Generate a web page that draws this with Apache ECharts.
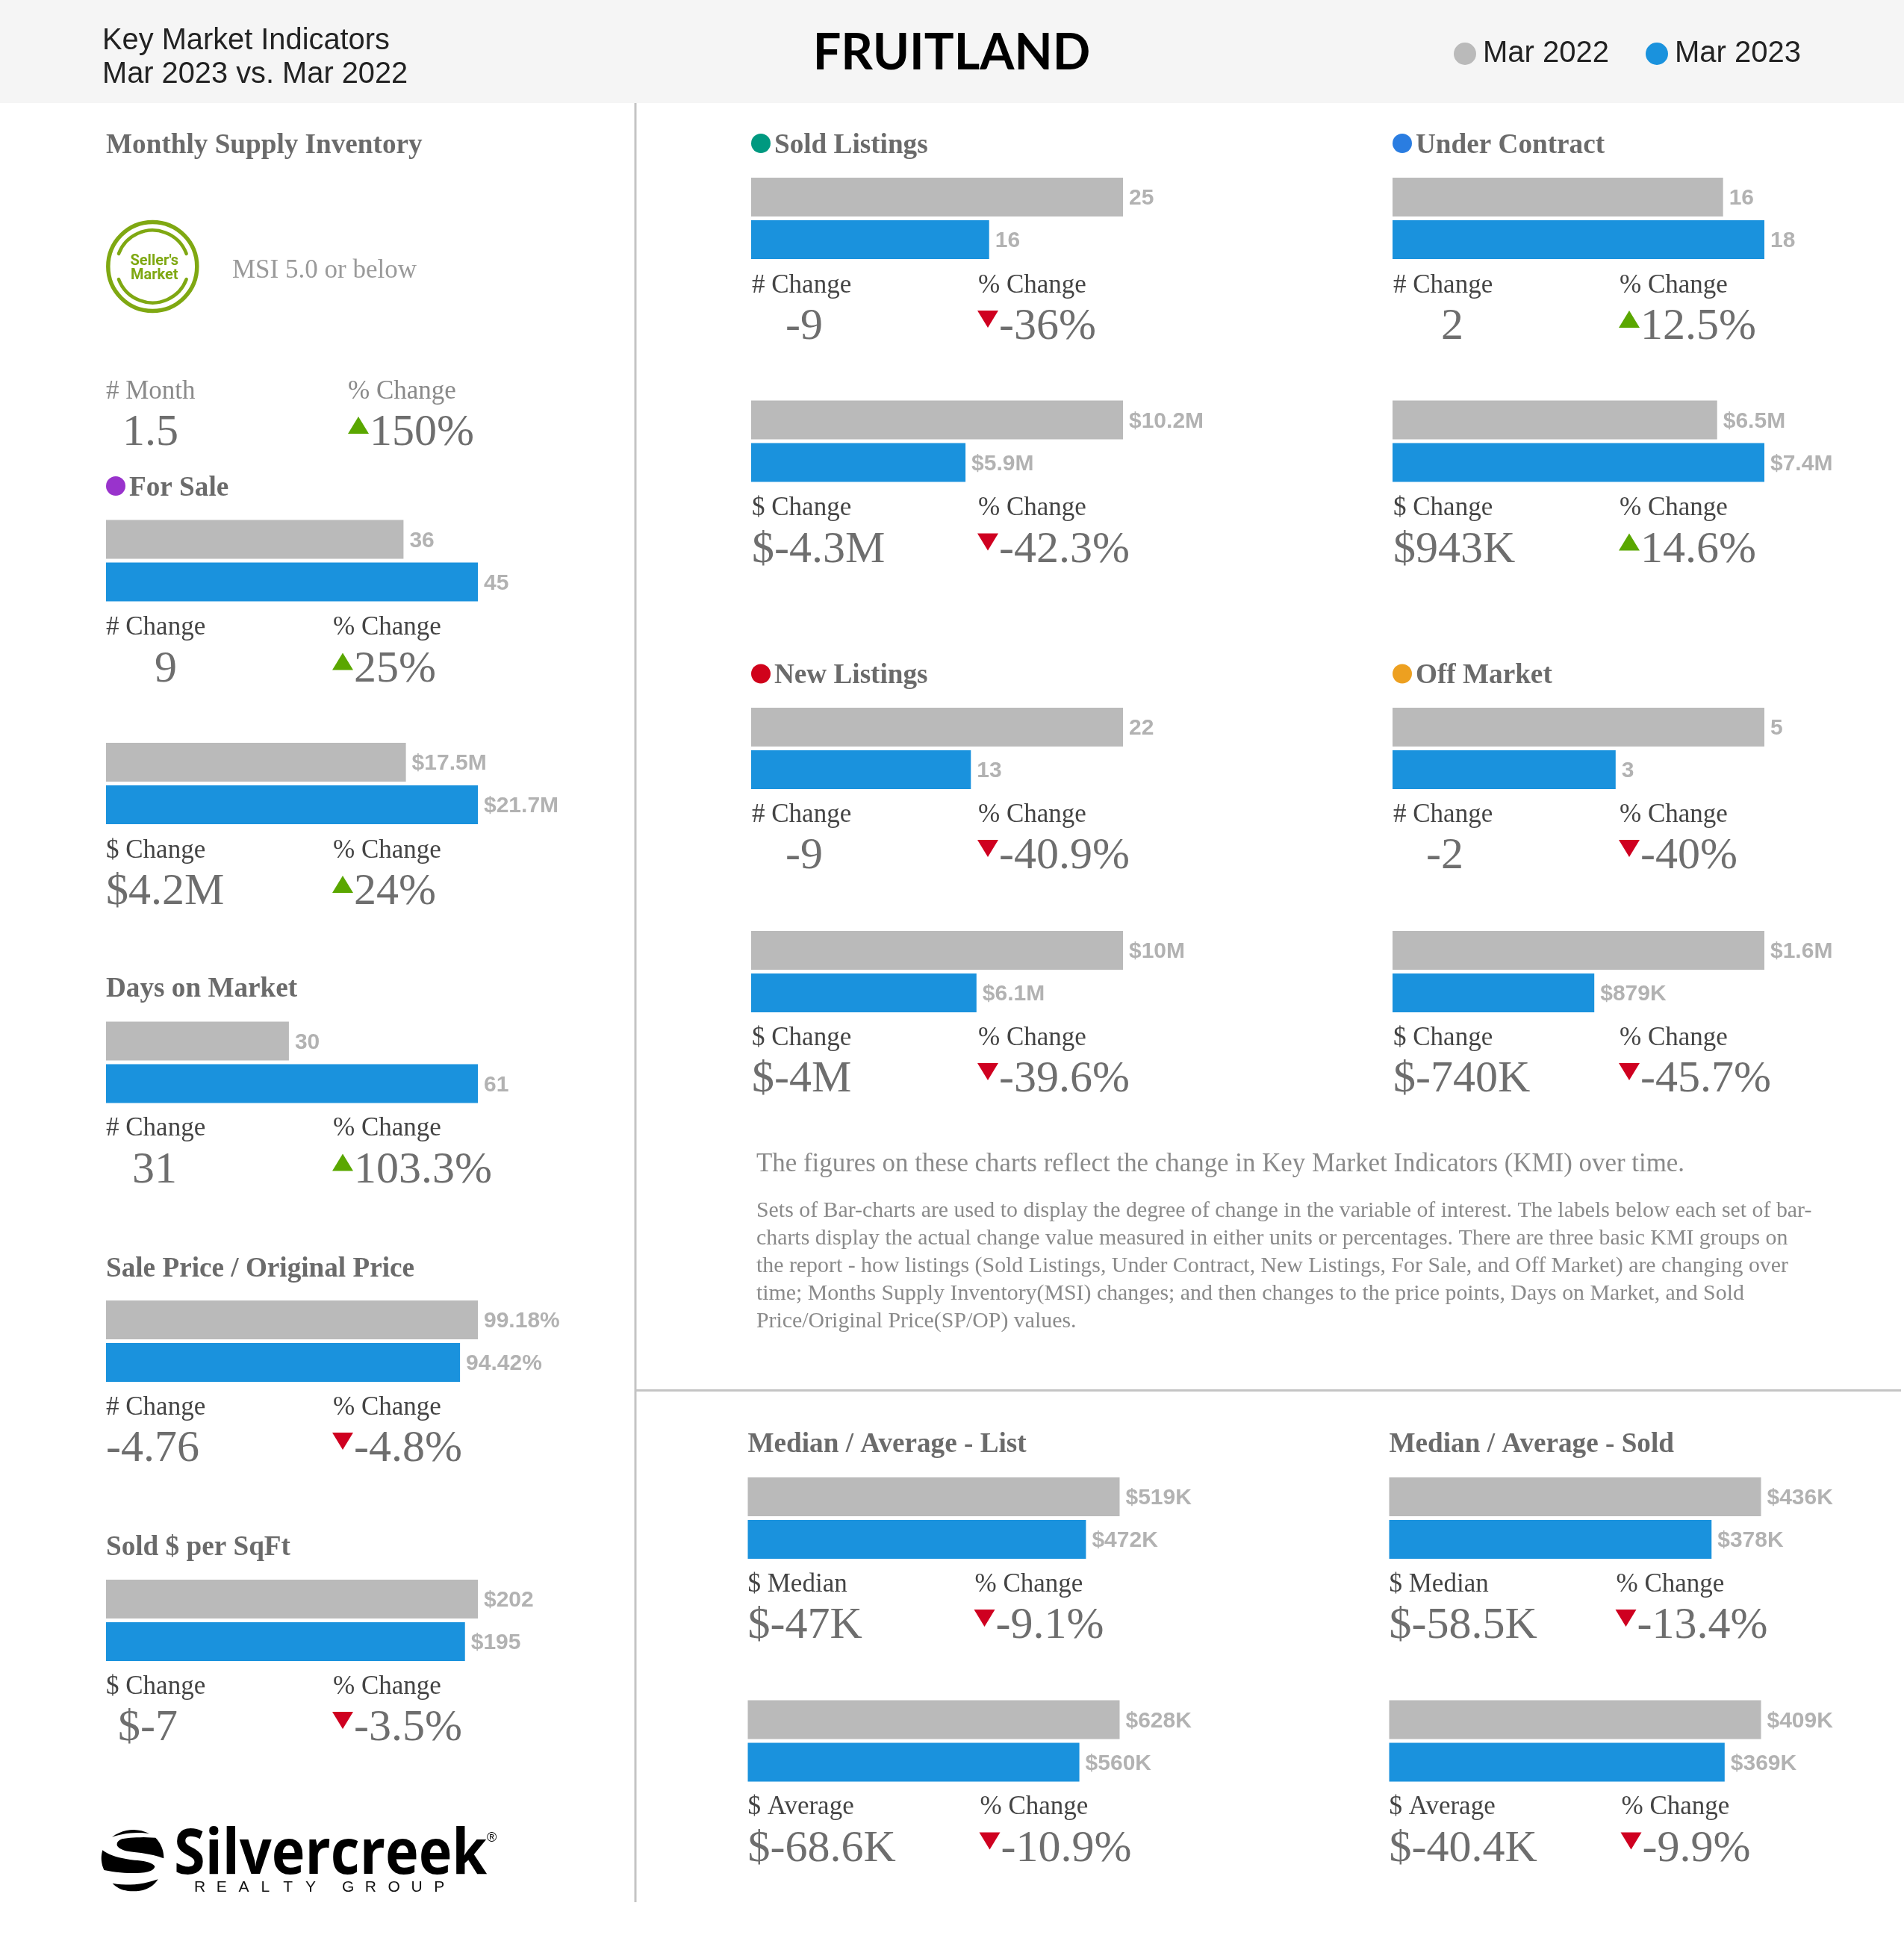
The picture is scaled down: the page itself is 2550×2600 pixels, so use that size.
<!DOCTYPE html>
<html>
<head>
<meta charset="utf-8">
<title>Fruitland Key Market Indicators</title>
<style>
  html, body { margin: 0; padding: 0; background: #fff; }
  #main { width: 2550px; height: 2600px; }
</style>
<script src="https://cdn.jsdelivr.net/npm/echarts@6/dist/echarts.min.js"></script>
</head>
<body>
<div id="main"></div>
<script>
// periods, bar values are [Mar 2022, Mar 2023]
const periods = ['Mar 2022', 'Mar 2023'];

const forSaleCount = [36, 45];
const forSaleVolume = [17.5e6, 21.7e6];
const daysOnMarket = [30, 61];
const salePriceRatio = [99.18, 94.42];
const soldPerSqft = [202, 195];
const soldCount = [25, 16];
const soldVolume = [10.2e6, 5.88e6];
const underContractCount = [16, 18];
const underContractVolume = [6.46e6, 7.4e6];
const newCount = [22, 13];
const newVolume = [10e6, 6.06e6];
const offMarketCount = [5, 3];
const offMarketVolume = [1.62e6, 879e3];
const listMedian = [519e3, 472e3];
const listAverage = [628e3, 560e3];
const soldMedian = [436e3, 378e3];
const soldAverage = [409e3, 369e3];

// change readouts: [amount, percent]
const msiChange = ['1.5', '150%'];
const forSaleCountChange = ['9', '25%'];
const forSaleVolumeChange = ['$4.2M', '24%'];
const daysChange = ['31', '103.3%'];
const salePriceChange = ['-4.76', '-4.8%'];
const sqftChange = ['$-7', '-3.5%'];
const soldCountChange = ['-9', '-36%'];
const soldVolumeChange = ['$-4.3M', '-42.3%'];
const underCountChange = ['2', '12.5%'];
const underVolumeChange = ['$943K', '14.6%'];
const newCountChange = ['-9', '-40.9%'];
const newVolumeChange = ['$-4M', '-39.6%'];
const offCountChange = ['-2', '-40%'];
const offVolumeChange = ['$-740K', '-45.7%'];
const listMedianChange = ['$-47K', '-9.1%'];
const listAverageChange = ['$-68.6K', '-10.9%'];
const soldMedianChange = ['$-58.5K', '-13.4%'];
const soldAverageChange = ['$-40.4K', '-9.9%'];

const introText = 'The figures on these charts reflect the change in Key Market Indicators (KMI) over time.';
const bodyLines = [
  'Sets of Bar-charts are used to display the degree of change in the variable of interest. The labels below each set of bar-',
  'charts display the actual change value measured in either units or percentages. There are three basic KMI groups on',
  'the report - how listings (Sold Listings, Under Contract, New Listings, For Sale, and Off Market) are changing over',
  'time; Months Supply Inventory(MSI) changes; and then changes to the price points, Days on Market, and Sold',
  'Price/Original Price(SP/OP) values.'
];

const GREY = '#bababa';
const BLUE = '#1a92dd';
const SERIF = '"Liberation Serif", serif';
const SANS = '"Liberation Sans", sans-serif';

const fmtPlain = v => String(v);
const fmtMoney = v => v >= 1e6 ? '$' + (+(v / 1e6).toFixed(1)) + 'M' : '$' + Math.round(v / 1e3) + 'K';
const fmtDollar = v => '$' + v;
const fmtPct = v => v.toFixed(2) + '%';

// one entry per pair of bars. x,y = top left of the grey bar, vx = offset of the big number,
// px = offset of the % column, by = nudge for the bars only, tx = nudge for the text only
const panels = [
  { v: forSaleCount, f: fmtPlain, label: '# Change', c: forSaleCountChange, x: 142, y: 696.5, vx: 65 },
  { v: forSaleVolume, f: fmtMoney, label: '$ Change', c: forSaleVolumeChange, x: 142, y: 995, vx: 0 },
  { v: daysOnMarket, f: fmtPlain, label: '# Change', c: daysChange, x: 142, y: 1367.5, vx: 35, by: 1 },
  { v: salePriceRatio, f: fmtPct, label: '# Change', c: salePriceChange, x: 142, y: 1741, vx: 0, by: 1 },
  { v: soldPerSqft, f: fmtDollar, label: '$ Change', c: sqftChange, x: 142, y: 2115, vx: 16, by: 1 },
  { v: soldCount, f: fmtPlain, label: '# Change', c: soldCountChange, x: 1006, y: 238, vx: 45, tx: 1 },
  { v: soldVolume, f: fmtMoney, label: '$ Change', c: soldVolumeChange, x: 1006, y: 536.5, vx: 0, tx: 1 },
  { v: underContractCount, f: fmtPlain, label: '# Change', c: underCountChange, x: 1865, y: 238, vx: 64, tx: 1 },
  { v: underContractVolume, f: fmtMoney, label: '$ Change', c: underVolumeChange, x: 1865, y: 536.5, vx: 0, tx: 1 },
  { v: newCount, f: fmtPlain, label: '# Change', c: newCountChange, x: 1006, y: 947, vx: 45, by: 1, tx: 1 },
  { v: newVolume, f: fmtMoney, label: '$ Change', c: newVolumeChange, x: 1006, y: 1246, vx: 0, by: 1, tx: 1 },
  { v: offMarketCount, f: fmtPlain, label: '# Change', c: offCountChange, x: 1865, y: 947, vx: 44, by: 1, tx: 1 },
  { v: offMarketVolume, f: fmtMoney, label: '$ Change', c: offVolumeChange, x: 1865, y: 1246, vx: 0, by: 1, tx: 1 },
  { v: listMedian, f: fmtMoney, label: '$ Median', c: listMedianChange, x: 1001.5, y: 1978, vx: 0, by: 1 },
  { v: listAverage, f: fmtMoney, label: '$ Average', c: listAverageChange, x: 1001.5, y: 2276.5, vx: 0, px: 310, by: 1 },
  { v: soldMedian, f: fmtMoney, label: '$ Median', c: soldMedianChange, x: 1860.5, y: 1978, vx: 0, by: 1 },
  { v: soldAverage, f: fmtMoney, label: '$ Average', c: soldAverageChange, x: 1860.5, y: 2276.5, vx: 0, px: 310, by: 1 }
];

const headings = [
  { text: 'Monthly Supply Inventory', x: 142, y: 204 },
  { text: 'For Sale', x: 142, y: 663, dot: '#9933cc' },
  { text: 'Days on Market', x: 142, y: 1334 },
  { text: 'Sale Price / Original Price', x: 142, y: 1709 },
  { text: 'Sold $ per SqFt', x: 142, y: 2082 },
  { text: 'Sold Listings', x: 1006, y: 204, dot: '#009980' },
  { text: 'Under Contract', x: 1865, y: 204, dot: '#2a7de1' },
  { text: 'New Listings', x: 1006, y: 914.5, dot: '#d0021b' },
  { text: 'Off Market', x: 1865, y: 914.5, dot: '#eda020' },
  { text: 'Median / Average - List', x: 1001.5, y: 1944 },
  { text: 'Median / Average - Sold', x: 1860.5, y: 1944 }
];

const graphics = [];

// y is the text baseline, zrender only gives us the middle so shift by a bit under a quarter of the size
function addText(text, x, y, size, fill, family, weight, extra) {
  graphics.push(Object.assign({
    type: 'text',
    x: x,
    y: y - size * 0.24,
    style: {
      text: text,
      fill: fill,
      font: (weight || 'normal') + ' ' + size + 'px ' + (family || SERIF),
      textAlign: 'left',
      textVerticalAlign: 'middle'
    }
  }, extra || {}));
}

function addChange(pctLabelX, baseY, text) {
  const down = text.charAt(0) === '-';
  const tx = pctLabelX;
  const top = baseY - 37;
  const points = down
    ? [[tx, top], [tx + 28, top], [tx + 14, top + 23]]
    : [[tx + 14, top], [tx + 28, top + 23], [tx, top + 23]];
  graphics.push({ type: 'polygon', shape: { points: points }, style: { fill: down ? '#cf0020' : '#5aa700' } });
  addText(text, tx + 29, baseY, 60, '#6e6e6e');
}

// header strip
graphics.push({ type: 'rect', shape: { x: 0, y: 0, width: 2550, height: 138 }, style: { fill: '#f5f5f5' } });
addText('Key Market Indicators', 137, 65, 39.8, '#222', SANS);
addText('Mar 2023 vs. Mar 2022', 137, 110, 39.8, '#222', SANS);
graphics.push({
  type: 'text',
  x: 1274.5,
  y: 71.5,
  style: { text: 'FRUITLAND', fill: '#000', font: 'bold 66.5px Lato', textAlign: 'center', textVerticalAlign: 'middle' }
});

// dividers
graphics.push({ type: 'line', shape: { x1: 851, y1: 138, x2: 851, y2: 2548 }, style: { stroke: '#c4c4c4', lineWidth: 3 } });
graphics.push({ type: 'line', shape: { x1: 851, y1: 1862.5, x2: 2546, y2: 1862.5 }, style: { stroke: '#c4c4c4', lineWidth: 3 } });

headings.forEach(h => {
  if (h.dot) {
    graphics.push({ type: 'circle', shape: { cx: h.x + 13, cy: h.y - 12, r: 13 }, style: { fill: h.dot } });
  }
  addText(h.text, h.dot ? h.x + 31 : h.x, h.y, 37.2, '#6b6b6b', SERIF, 'bold');
});

// seller's market badge
const badgeGreen = '#7fa812';
graphics.push({ type: 'circle', shape: { cx: 204.3, cy: 357, r: 59.5 }, style: { fill: 'none', stroke: badgeGreen, lineWidth: 5.5 } });
graphics.push({ type: 'arc', shape: { cx: 204.3, cy: 357, r: 48.5, startAngle: Math.PI * 1.115, endAngle: Math.PI * 1.885 }, style: { fill: 'none', stroke: badgeGreen, lineWidth: 4.5, lineCap: 'round' } });
graphics.push({ type: 'arc', shape: { cx: 204.3, cy: 357, r: 48.5, startAngle: Math.PI * 0.115, endAngle: Math.PI * 0.885 }, style: { fill: 'none', stroke: badgeGreen, lineWidth: 4.5, lineCap: 'round' } });
addText("Seller's", 174.5, 355, 20, badgeGreen, 'Roboto', 'bold');
addText('Market', 175, 374, 20, badgeGreen, 'Roboto', 'bold');
addText('MSI 5.0 or below', 311, 371, 35, '#9a9a9a');

// months of supply readout
addText('# Month', 142, 533, 35, '#8a8a8a');
addText('% Change', 466, 533, 35, '#8a8a8a');
addText(msiChange[0], 164, 595, 60, '#6e6e6e');
addChange(466, 595, msiChange[1]);

// text block
addText(introText, 1013, 1568, 34.9, '#8a8a8a');
bodyLines.forEach((line, i) => addText(line, 1013, 1629 + i * 37.1, 29.85, '#8a8a8a'));

// logo, graphic has no svg path type so the swooshes are flattened quadratics
// each shape: start point, then [cx, cy, x, y] segments, in 3x crop coordinates of the logo box
const logoShapes = [
  [[60, 92], [130, 42, 210, 78], [130, 68, 60, 92]],
  [[235, 95], [150, 90, 100, 100], [78, 108, 80, 125], [90, 148, 150, 153], [220, 160, 268, 178], [268, 130, 235, 95]],
  [[22, 145], [60, 175, 150, 185], [220, 190, 232, 210], [230, 228, 190, 235], [110, 242, 28, 225], [10, 185, 22, 145]],
  [[62, 278], [150, 295, 245, 262], [215, 310, 145, 310], [90, 310, 62, 278]]
];
function flatten(shape) {
  const pts = [];
  let p = shape[0];
  shape.slice(1).forEach(s => {
    for (let t = 0; t < 1; t += 0.1) {
      const a = (1 - t) * (1 - t), b = 2 * t * (1 - t), c = t * t;
      pts.push([130 + (a * p[0] + b * s[0] + c * s[2]) / 3, 2430 + (a * p[1] + b * s[1] + c * s[3]) / 3]);
    }
    p = [s[2], s[3]];
  });
  return pts;
}
logoShapes.forEach(s => {
  graphics.push({ type: 'polygon', shape: { points: flatten(s) }, style: { fill: '#000' } });
});
addText('Silvercreek', 233, 2506, 84, '#000', '"Open Sans"', 'bold', { scaleX: 0.9 });
addText('®', 652, 2466, 18, '#000', SANS);
'REALTY'.split('').forEach((ch, i) => addText(ch, 260 + i * 29.8, 2533, 21, '#111', SANS));
'GROUP'.split('').forEach((ch, i) => addText(ch, 458 + i * 30.8, 2533, 21, '#111', SANS));

// bars: one grid per pair, scaled so the longer bar fills the width
const grids = [];
const xAxes = [];
const yAxes = [];
const series = [];
panels.forEach((p, i) => {
  grids.push({ left: p.x, top: p.y - 2.5 + (p.by || 0), width: 498, height: 114 });
  xAxes.push({ type: 'value', gridIndex: i, show: false, min: 0, max: Math.max(p.v[0], p.v[1]) });
  yAxes.push({ type: 'category', gridIndex: i, show: false, inverse: true, data: periods });
  periods.forEach((name, k) => {
    series.push({
      name: name,
      type: 'bar',
      xAxisIndex: i,
      yAxisIndex: i,
      barWidth: 52,
      barGap: '-100%',
      silent: true,
      itemStyle: { color: k === 0 ? GREY : BLUE },
      label: {
        show: true,
        position: 'right',
        distance: 8,
        offset: [0, 2],
        color: '#b2b2b2',
        fontFamily: SANS,
        fontWeight: 'bold',
        fontSize: 30,
        formatter: o => p.f(o.value)
      },
      data: k === 0 ? [p.v[0], null] : [null, p.v[1]]
    });
  });

  const tx = p.x + (p.tx || 0);
  addText(p.label, tx, p.y + 153, 35, '#444');
  addText('% Change', tx + (p.px || 303) + (p.tx ? 0 : 1), p.y + 153, 35, '#444');
  addText(p.c[0], tx + p.vx, p.y + 215, 60, '#6e6e6e');
  addChange(p.x + 303 + (p.px ? 7 : 0), p.y + 215, p.c[1]);
});

const chart = echarts.init(document.getElementById('main'), null, { renderer: 'canvas' });
chart.setOption({
  animation: false,
  backgroundColor: '#fff',
  legend: {
    data: periods,
    left: 1947,
    top: 52,
    padding: 0,
    icon: 'circle',
    itemWidth: 30,
    itemHeight: 30,
    itemGap: 49,
    selectedMode: false,
    textStyle: { color: '#222', fontFamily: SANS, fontSize: 40, padding: [0, 0, 3, 4] }
  },
  grid: grids,
  xAxis: xAxes,
  yAxis: yAxes,
  series: series,
  graphic: { elements: graphics }
});
</script>
</body>
</html>
